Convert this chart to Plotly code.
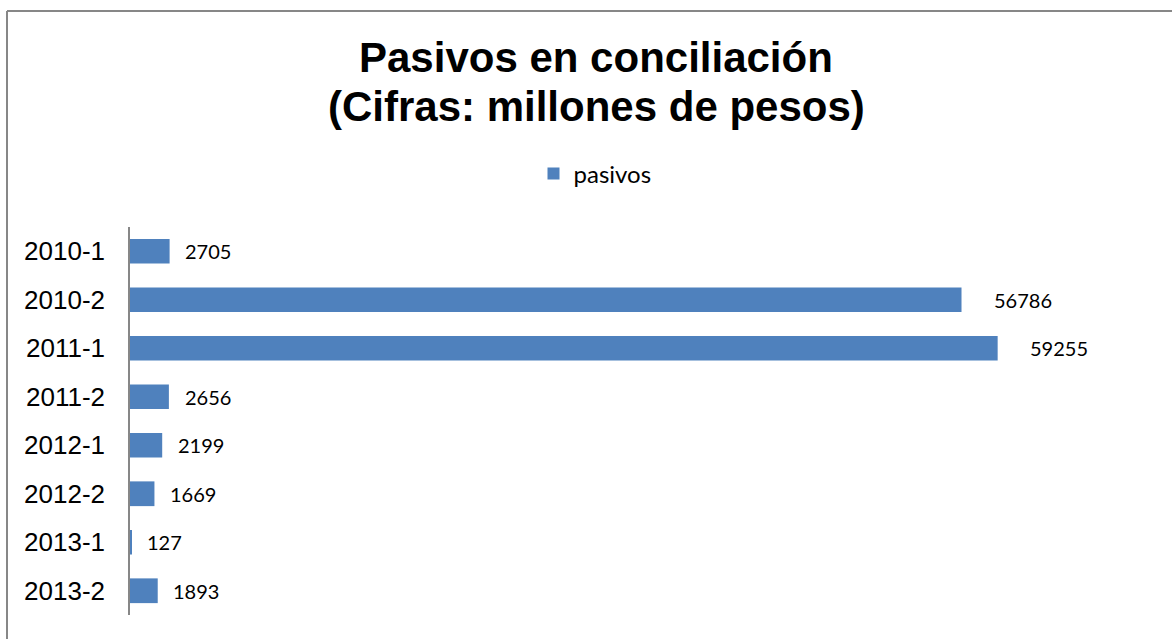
import plotly.graph_objects as go

W, H = 1172, 639
categories = ["2010-1", "2010-2", "2011-1", "2011-2", "2012-1", "2012-2", "2013-1", "2013-2"]
values = [2705, 56786, 59255, 2656, 2199, 1669, 127, 1893]
series_name = "pasivos"

BAR = "#4F81BD"

fig = go.Figure()
fig.add_trace(go.Bar(
    y=categories, x=values, orientation="h", name=series_name,
    marker=dict(color=BAR, line=dict(width=0)), width=0.51,
    showlegend=True,
))

for c, v in zip(categories, values):
    fig.add_annotation(x=v, y=c, xref="x", yref="y", text=str(v), showarrow=False,
                       xanchor="left", yanchor="middle", xshift=13 + v * 0.0003,
                       font=dict(family="Lato, Open Sans, sans-serif", size=20, color="#000"))

fig.add_annotation(x=596 / W, y=1 - 58 / H, xref="paper", yref="paper",
                   text="<b>Pasivos en conciliación</b>", showarrow=False,
                   xanchor="center", yanchor="middle",
                   font=dict(family="Liberation Sans, Arial, sans-serif", size=42, color="#000"))
fig.add_annotation(x=596 / W, y=1 - 107 / H, xref="paper", yref="paper",
                   text="<b>(Cifras: millones de pesos)</b>", showarrow=False,
                   xanchor="center", yanchor="middle",
                   font=dict(family="Liberation Sans, Arial, sans-serif", size=42, color="#000"))

fig.add_shape(type="line", xref="paper", yref="paper", x0=7 / W, x1=1.02, y0=1 - 11 / H, y1=1 - 11 / H,
              line=dict(color="#878787", width=2))
fig.add_shape(type="line", xref="paper", yref="paper", x0=7 / W, x1=7 / W, y0=-0.02, y1=1 - 11 / H,
              line=dict(color="#878787", width=2))

fig.update_layout(
    width=W, height=H,
    margin=dict(l=0, r=0, t=0, b=0),
    paper_bgcolor="white", plot_bgcolor="white",
    showlegend=True,
    legend=dict(orientation="h", x=595 / W, xanchor="center", y=1 - 174 / H, yanchor="middle",
                font=dict(family="Lato, Open Sans, sans-serif", size=24, color="#000"),
                itemwidth=30, bgcolor="rgba(0,0,0,0)"),
    xaxis=dict(domain=[130 / W, 1155 / W], range=[0, 70000], showgrid=False, zeroline=False,
               showticklabels=False, ticks="", showline=False),
    yaxis=dict(type="category", domain=[1 - 615 / H, 1 - 227 / H], autorange="reversed", showgrid=False,
               zeroline=False, showline=True, linecolor="#878787", linewidth=1.5,
               ticks="", ticklabelstandoff=18,
               tickfont=dict(family="Liberation Sans, Arial, sans-serif", size=26, color="#000")),
)

fig.write_html("out.html", config={"displayModeBar": False},
               post_script="document.body.style.margin='0px';")
